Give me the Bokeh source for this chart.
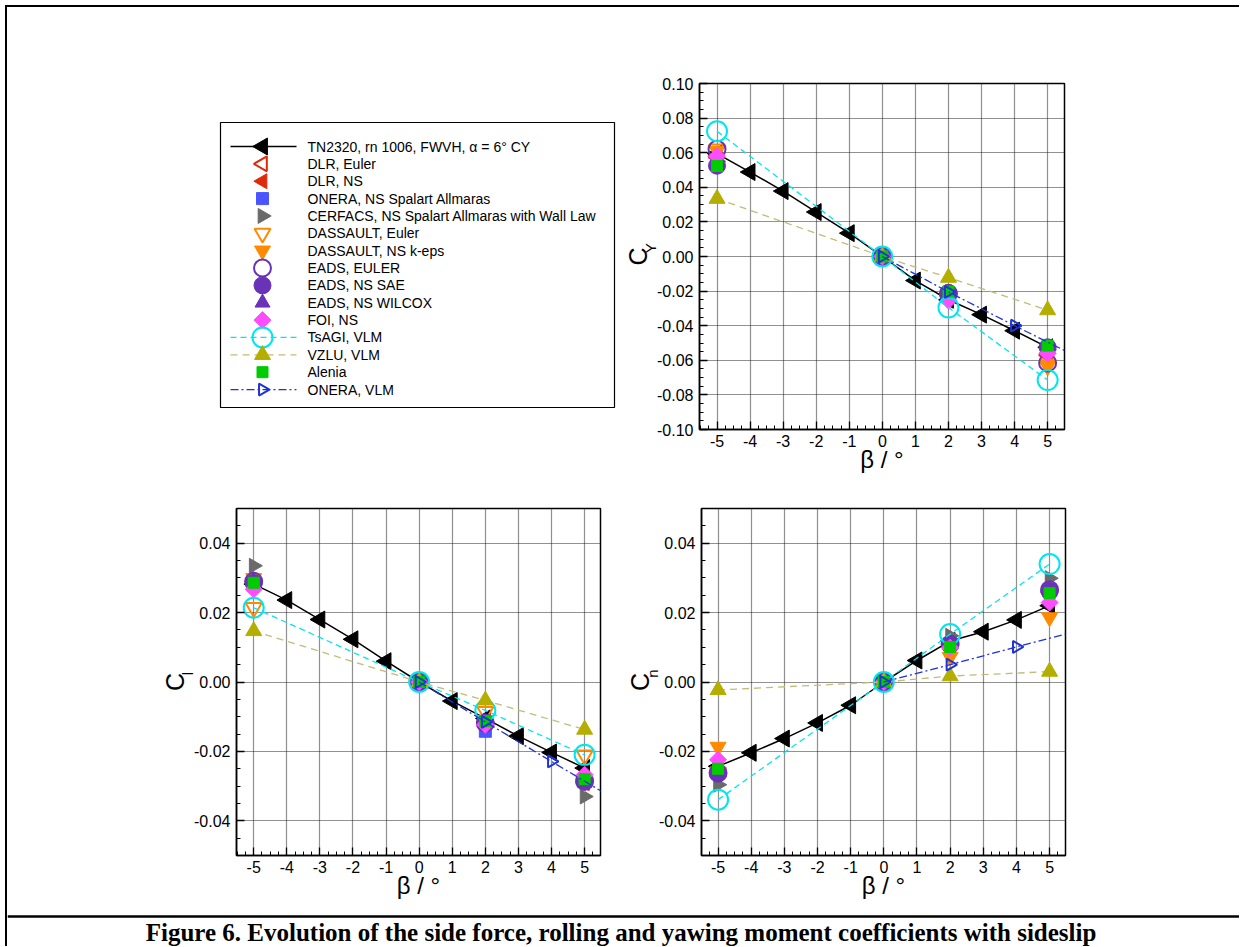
import math
from bokeh.plotting import figure
from bokeh.layouts import column, row
from bokeh.models import Range1d, FixedTicker, PrintfTickFormatter, Label, Span, LinearAxis
from bokeh.core.properties import value
from bokeh.embed import file_html
from bokeh.resources import INLINE

# ---------------- data ----------------
beta_exp = [-5, -4, -3, -2, -1, 0, 1, 2, 3, 4, 5]
beta_cfd = [-5, 0, 2, 5]
beta_vlm_onera = [0, 2, 4, 6]

series_labels = [
    "TN2320, rn 1006, FWVH, \u03b1 = 6\u00b0 CY",
    "DLR, Euler",
    "DLR, NS",
    "ONERA, NS Spalart Allmaras",
    "CERFACS, NS Spalart Allmaras with Wall Law",
    "DASSAULT, Euler",
    "DASSAULT, NS k-eps",
    "EADS, EULER",
    "EADS, NS SAE",
    "EADS, NS WILCOX",
    "FOI, NS",
    "TsAGI, VLM",
    "VZLU, VLM",
    "Alenia",
    "ONERA, VLM",
]

# side force coefficient CY
cy_tn2320 = [0.0595, 0.0488, 0.0378, 0.0257, 0.0135, 0.0, -0.0139, -0.0250, -0.0336, -0.0429, -0.0525]
cy_dlr_euler = [0.058, 0.0, -0.022, -0.057]
cy_dlr_ns = [0.057, 0.0, -0.023, -0.056]
cy_onera_ns = [0.056, 0.0, -0.022, -0.055]
cy_cerfacs = [0.055, 0.0, -0.022, -0.054]
cy_dassault_euler = [0.062, 0.0, -0.023, -0.063]
cy_dassault_ns = [0.061, 0.0, -0.022, -0.062]
cy_eads_euler = [0.062, 0.0, -0.0215, -0.0615]
cy_eads_sae = [0.0525, 0.0, -0.021, -0.0525]
cy_eads_wilcox = [0.053, 0.0, -0.022, -0.053]
cy_foi = [0.058, 0.0, -0.0255, -0.056]
cy_tsagi = [0.0724, 0.0, -0.0295, -0.0714]
cy_vzlu = [0.0334, 0.0, -0.0122, -0.0310]
cy_alenia = [0.0523, 0.0, -0.0203, -0.0515]
cy_onera_vlm = [0.0, -0.0205, -0.0400, -0.0590]

# rolling moment coefficient Cl
cl_tn2320 = [0.0282, 0.0236, 0.0180, 0.0123, 0.0060, 0.0, -0.0055, -0.0105, -0.0156, -0.0203, -0.0248]
cl_dlr_euler = [0.029, 0.0, -0.0115, -0.029]
cl_dlr_ns = [0.0285, 0.0, -0.012, -0.0285]
cl_onera_ns = [0.028, 0.0, -0.0142, -0.028]
cl_cerfacs = [0.0335, 0.0, -0.012, -0.033]
cl_dassault_euler = [0.0214, 0.0, -0.0085, -0.0211]
cl_dassault_ns = [0.0299, 0.0, -0.011, -0.029]
cl_eads_euler = [0.029, 0.0, -0.0118, -0.0286]
cl_eads_sae = [0.0285, 0.0, -0.0118, -0.0285]
cl_eads_wilcox = [0.029, 0.0, -0.012, -0.029]
cl_foi = [0.0267, 0.0, -0.0123, -0.0267]
cl_tsagi = [0.0214, 0.0, -0.0082, -0.0210]
cl_vzlu = [0.0147, 0.0, -0.0053, -0.0137]
cl_alenia = [0.0286, 0.0, -0.0113, -0.0280]
cl_onera_vlm = [0.0, -0.0115, -0.0229, -0.0343]

# yawing moment coefficient Cn
cn_tn2320 = [-0.0243, -0.0204, -0.0163, -0.0118, -0.0067, 0.0, 0.0062, 0.0118, 0.0145, 0.0179, 0.0220]
cn_dlr_euler = [-0.026, 0.0, 0.0105, 0.026]
cn_dlr_ns = [-0.0255, 0.0, 0.0105, 0.0255]
cn_onera_ns = [-0.026, 0.0, 0.011, 0.026]
cn_cerfacs = [-0.0296, 0.0, 0.0133, 0.0299]
cn_dassault_euler = [-0.026, 0.0, 0.010, 0.026]
cn_dassault_ns = [-0.0187, 0.0, 0.0072, 0.0186]
cn_eads_euler = [-0.0262, 0.0, 0.0109, 0.0266]
cn_eads_sae = [-0.0262, 0.0, 0.011, 0.0262]
cn_eads_wilcox = [-0.026, 0.0, 0.011, 0.026]
cn_foi = [-0.0224, 0.0, 0.0099, 0.0229]
cn_tsagi = [-0.0339, 0.0, 0.0138, 0.0340]
cn_vzlu = [-0.0023, 0.0, 0.0017, 0.0030]
cn_alenia = [-0.0250, 0.0, 0.0101, 0.0256]
cn_onera_vlm = [0.0, 0.0050, 0.0101, 0.0151]

x_ticks = [-5, -4, -3, -2, -1, 0, 1, 2, 3, 4, 5]
x_minor_ticks = [i * 0.25 for i in range(-22, 23)]
cy_ticks = [-0.10, -0.08, -0.06, -0.04, -0.02, 0.0, 0.02, 0.04, 0.06, 0.08, 0.10]
cy_minor_ticks = [i * 0.005 for i in range(-20, 21)]
cm_ticks = [-0.04, -0.02, 0.0, 0.02, 0.04]
cm_minor_ticks = [i * 0.005 for i in range(-10, 11)]

caption = "Figure 6. Evolution of the side force, rolling and yawing moment coefficients with sideslip"

# ---------------- styles ----------------
HALF_PI = math.pi / 2
# (marker, angle, color, filled, size, line_color, line_dash)
styles = [
    ("triangle", HALF_PI, "black", True, 17, "black", "solid"),
    ("triangle", HALF_PI, "#e0280c", False, 15, None, None),
    ("triangle", HALF_PI, "#e0280c", True, 15, None, None),
    ("square", 0.0, "#4a55ff", True, 12, None, None),
    ("triangle", -HALF_PI, "#6a6a6a", True, 15, None, None),
    ("inverted_triangle", 0.0, "#ff8a00", False, 16, None, None),
    ("inverted_triangle", 0.0, "#ff8a00", True, 16, None, None),
    ("circle", 0.0, "#6a32b8", False, 17, None, None),
    ("circle", 0.0, "#6a32b8", True, 17, None, None),
    ("triangle", 0.0, "#6a32b8", True, 15, None, None),
    ("square", math.pi / 4, "#ff4cff", True, 12, None, None),
    ("circle", 0.0, "#00e5ef", False, 20, "#00e5ef", "6 4"),
    ("triangle", 0.0, "#b3ae00", True, 16, "#c2bc78", "7 5"),
    ("square", 0.0, "#00cc00", True, 11, None, None),
    ("triangle", -HALF_PI, "#1f33d6", False, 12, "#1f33d6", "8 3 2 3"),
]

FONT = "Liberation Sans"


def draw_series(p, xs, ys, st):
    marker, angle, color, filled, size, lcolor, ldash = st
    if lcolor is not None:
        p.line(xs, ys, line_color=lcolor, line_width=1.5 if lcolor == "black" else 1.3,
               line_dash=ldash)
    p.scatter(xs, ys, marker=marker, angle=angle, size=size,
              line_color=color, line_width=2.0 if not filled else 1.0,
              fill_color=color, fill_alpha=1.0 if filled else 0.0)


def make_axes(width, height, left, right, top, bottom, xr, yr, yticks, yminor, fmt, sub):
    p = figure(width=width, height=height, x_range=Range1d(*xr), y_range=Range1d(*yr),
               min_border_left=left, min_border_right=right,
               min_border_top=top, min_border_bottom=bottom,
               toolbar_location=None, output_backend="svg", tools="")
    p.background_fill_color = "white"
    p.border_fill_color = "white"
    p.outline_line_color = "black"
    p.outline_line_width = 1.5
    p.outline_line_alpha = 1.0
    p.xaxis.ticker = FixedTicker(ticks=x_ticks, minor_ticks=x_minor_ticks)
    p.yaxis.ticker = FixedTicker(ticks=yticks, minor_ticks=yminor)
    p.xaxis.formatter = PrintfTickFormatter(format="%d")
    p.yaxis.formatter = PrintfTickFormatter(format=fmt)
    for ax in (p.xaxis[0], p.yaxis[0]):
        ax.major_label_text_font = FONT
        ax.major_label_text_font_size = "16px"
        ax.major_label_text_color = "black"
        ax.major_tick_in = 8
        ax.major_tick_out = 0
        ax.minor_tick_in = 4
        ax.minor_tick_out = 0
        ax.major_tick_line_color = "black"
        ax.minor_tick_line_color = "black"
        ax.major_tick_line_width = 1.3
        ax.minor_tick_line_width = 1.0
        ax.axis_line_color = "black"
        ax.axis_line_width = 1.5
    p.xaxis.major_label_standoff = 5
    p.yaxis.major_label_standoff = 6
    p.xaxis.axis_label = "\u03b2 / \u00b0"
    p.xaxis.axis_label_text_font = FONT
    p.xaxis.axis_label_text_font_size = "24px"
    p.xaxis.axis_label_text_font_style = "normal"
    p.xaxis.axis_label_text_color = "black"
    p.xaxis.axis_label_standoff = -4
    # y title: "C" on the main axis, subscript on a bare second axis pulled inwards
    p.yaxis.axis_label = "C"
    p.yaxis.axis_label_text_font = FONT
    p.yaxis.axis_label_text_font_size = "25px"
    p.yaxis.axis_label_text_font_style = "normal"
    p.yaxis.axis_label_text_color = "black"
    p.yaxis.axis_label_standoff = 2
    sub_axis = LinearAxis(ticker=FixedTicker(ticks=[]), axis_line_color=None,
                          major_tick_line_color=None, minor_tick_line_color=None,
                          major_tick_in=0, major_tick_out=0, minor_tick_in=0, minor_tick_out=0,
                          major_label_standoff=0, major_label_text_font_size="1px",
                          axis_label="\u00a0\u00a0\u00a0\u00a0" + sub, axis_label_text_font=FONT,
                          axis_label_text_font_size="15px", axis_label_text_font_style="normal",
                          axis_label_text_color="black", axis_label_standoff=-37)
    p.add_layout(sub_axis, "left")
    p.xgrid.ticker = FixedTicker(ticks=x_ticks)
    p.ygrid.ticker = FixedTicker(ticks=yticks)
    for g in (p.xgrid[0], p.ygrid[0]):
        g.grid_line_color = "#222222"
        g.grid_line_width = 1.2
        g.grid_line_dash = "1 1"
        g.grid_line_alpha = 1.0
    return p


def plot_all(p, data):
    for i, st in enumerate(styles):
        xs, ys = data[i]
        draw_series(p, xs, ys, st)


# ---------------- CY (top right) ----------------
cy = make_axes(619, 478, 79, 175, 76, 56, (-5.53, 5.51), (-0.10, 0.10), cy_ticks, cy_minor_ticks, "%.2f", "Y")
cy_data = [
    (beta_exp, cy_tn2320), (beta_cfd, cy_dlr_euler), (beta_cfd, cy_dlr_ns), (beta_cfd, cy_onera_ns),
    (beta_cfd, cy_cerfacs), (beta_cfd, cy_dassault_euler), (beta_cfd, cy_dassault_ns),
    (beta_cfd, cy_eads_euler), (beta_cfd, cy_eads_sae), (beta_cfd, cy_eads_wilcox), (beta_cfd, cy_foi),
    (beta_cfd, cy_tsagi), (beta_cfd, cy_vzlu), (beta_cfd, cy_alenia), (beta_vlm_onera, cy_onera_vlm),
]
plot_all(cy, cy_data)

# ---------------- Cl (bottom left) ----------------
cl = make_axes(608, 425, 229, 15, 23, 55, (-5.52, 5.48), (-0.05, 0.05), cm_ticks, cm_minor_ticks, "%.2f", "l")
cl_data = [
    (beta_exp, cl_tn2320), (beta_cfd, cl_dlr_euler), (beta_cfd, cl_dlr_ns), (beta_cfd, cl_onera_ns),
    (beta_cfd, cl_cerfacs), (beta_cfd, cl_dassault_euler), (beta_cfd, cl_dassault_ns),
    (beta_cfd, cl_eads_euler), (beta_cfd, cl_eads_sae), (beta_cfd, cl_eads_wilcox), (beta_cfd, cl_foi),
    (beta_cfd, cl_tsagi), (beta_cfd, cl_vzlu), (beta_cfd, cl_alenia), (beta_vlm_onera, cl_onera_vlm),
]
plot_all(cl, cl_data)

# ---------------- Cn (bottom right) ----------------
cn = make_axes(624, 425, 86, 174, 23, 55, (-5.50, 5.48), (-0.05, 0.05), cm_ticks, cm_minor_ticks, "%.2f", "n")
cn_data = [
    (beta_exp, cn_tn2320), (beta_cfd, cn_dlr_euler), (beta_cfd, cn_dlr_ns), (beta_cfd, cn_onera_ns),
    (beta_cfd, cn_cerfacs), (beta_cfd, cn_dassault_euler), (beta_cfd, cn_dassault_ns),
    (beta_cfd, cn_eads_euler), (beta_cfd, cn_eads_sae), (beta_cfd, cn_eads_wilcox), (beta_cfd, cn_foi),
    (beta_cfd, cn_tsagi), (beta_cfd, cn_vzlu), (beta_cfd, cn_alenia), (beta_vlm_onera, cn_onera_vlm),
]
plot_all(cn, cn_data)

# ---------------- legend box (top left, same borders as CY so the row stays aligned) ----------------
LEG_W, LEG_FH = 613, 346
leg = figure(width=LEG_W, height=478, x_range=Range1d(0, LEG_W), y_range=Range1d(0, LEG_FH),
             min_border_left=0, min_border_right=0, min_border_top=76, min_border_bottom=56,
             toolbar_location=None, output_backend="svg", tools="")
leg.axis.visible = False
leg.grid.visible = False
leg.outline_line_color = None
leg.background_fill_color = "white"
leg.border_fill_color = "white"
box_left, box_right, box_bottom, box_top = 213, 607, 22, 307
leg.quad(left=[box_left], right=[box_right], bottom=[box_bottom], top=[box_top],
         fill_alpha=0, line_color="black", line_width=1.2)
row_step = 17.36
for i, (lab, st) in enumerate(zip(series_labels, styles)):
    yc = box_top - 24 - i * row_step
    marker, angle, color, filled, size, lcolor, ldash = st
    if lcolor is not None:
        leg.line([box_left + 10, box_left + 76], [yc, yc], line_color=lcolor,
                 line_width=1.5 if lcolor == "black" else 1.3, line_dash=ldash)
    leg.scatter([box_left + 42], [yc], marker=marker, angle=angle, size=size,
                line_color=color, line_width=2.0 if not filled else 1.0,
                fill_color=color, fill_alpha=1.0 if filled else 0.0)
    leg.text([box_left + 87], [yc], text=[lab], text_font=value(FONT), text_font_size="14px",
             text_baseline="middle", text_align="left", text_color="black")

# ---------------- caption ----------------
CAP_H = 36
cap = figure(width=1232, height=CAP_H, x_range=Range1d(0, 1), y_range=Range1d(0, CAP_H),
             min_border=0, toolbar_location=None, output_backend="svg", tools="")
cap.axis.visible = False
cap.grid.visible = False
cap.outline_line_color = None
cap.add_layout(Span(location=CAP_H - 6, dimension="width", line_color="black", line_width=2.5))
cap.add_layout(Label(x=0.498, y=14, text=caption, text_font="Liberation Serif", level="overlay",
                     text_font_size="25px", text_font_style="bold", text_align="center",
                     text_baseline="middle", text_color="black"))

layout = column(row(leg, cy, spacing=0), row(cl, cn, spacing=0), cap, spacing=0,
                styles={"border-left": "2px solid black", "border-top": "2px solid black",
                        "margin-left": "5px", "margin-top": "5px"})

open("out.html", "w").write(file_html(layout, INLINE))
